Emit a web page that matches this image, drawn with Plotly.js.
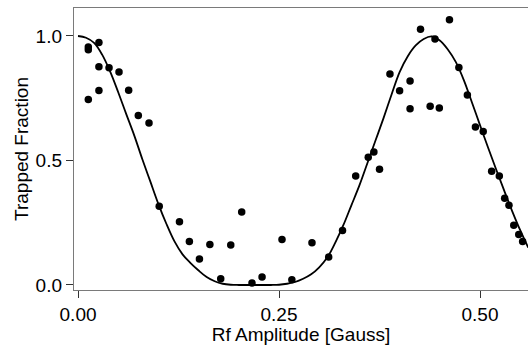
<!DOCTYPE html>
<html>
<head>
<meta charset="utf-8">
<script src="https://cdn.plot.ly/plotly-3.0.1.min.js"></script>
<style>html,body{margin:0;padding:0;background:#fff;}#chart{width:528px;height:345px;}</style>
</head>
<body>
<div id="chart"></div>
<script>
// Measured data points
const dataX = [0.0128, 0.0128, 0.026, 0.026, 0.0386, 0.051, 0.0128, 0.026, 0.0630, 0.075,
  0.0883, 0.101, 0.1262, 0.1385, 0.151, 0.164, 0.1775, 0.190, 0.2036, 0.2164,
  0.2289, 0.2537, 0.266, 0.291, 0.3118, 0.329, 0.3454, 0.361, 0.368, 0.375,
  0.388, 0.400, 0.413, 0.413, 0.426, 0.444, 0.438, 0.4494, 0.462, 0.4737,
  0.4843, 0.4943, 0.504, 0.5145, 0.524, 0.5307, 0.536, 0.542, 0.5482, 0.553];
const dataY = [0.956, 0.945, 0.974, 0.876, 0.872, 0.855, 0.745, 0.781, 0.782, 0.681,
  0.651, 0.316, 0.254, 0.175, 0.104, 0.163, 0.025, 0.161, 0.293, 0.008,
  0.032, 0.183, 0.021, 0.170, 0.112, 0.219, 0.438, 0.513, 0.534, 0.465,
  0.847, 0.780, 0.819, 0.708, 1.027, 0.988, 0.718, 0.711, 1.065, 0.873,
  0.763, 0.635, 0.616, 0.457, 0.438, 0.348, 0.320, 0.240, 0.203, 0.175];

// Fit curve
const fitX = [0.00, 0.01, 0.02, 0.03, 0.04, 0.05, 0.06, 0.07, 0.08, 0.09,
  0.10, 0.11, 0.12, 0.13, 0.14, 0.15, 0.16, 0.17, 0.18, 0.19,
  0.20, 0.22, 0.24, 0.25, 0.26, 0.27, 0.28, 0.29, 0.30, 0.31,
  0.32, 0.33, 0.34, 0.35, 0.36, 0.37, 0.38, 0.39, 0.40, 0.41,
  0.42, 0.43, 0.44, 0.45, 0.46, 0.47, 0.48, 0.49, 0.50, 0.51,
  0.52, 0.53, 0.54, 0.55, 0.56];
const fitY = [1.000, 0.993, 0.972, 0.925, 0.857, 0.774, 0.686, 0.600, 0.505, 0.415,
  0.325, 0.245, 0.175, 0.123, 0.088, 0.058, 0.032, 0.015, 0.005, 0.001,
  0.000, 0.000, 0.000, 0.001, 0.005, 0.012, 0.025, 0.043, 0.071, 0.110,
  0.170, 0.240, 0.320, 0.400, 0.490, 0.580, 0.670, 0.765, 0.855, 0.918,
  0.962, 0.988, 0.998, 0.982, 0.946, 0.895, 0.822, 0.733, 0.642, 0.552,
  0.465, 0.380, 0.297, 0.220, 0.150];

const xTickVals = [0, 0.25, 0.5];
const xTickText = ['0.00', '0.25', '0.50'];
const yTickVals = [0, 0.5, 1.0];
const yTickText = ['0.0', '0.5', '1.0'];

const FONT = 'Liberation Sans, Arial, Helvetica, sans-serif';

const traces = [
  {x: fitX, y: fitY, type: 'scatter', mode: 'lines',
   line: {color: '#000', width: 1.8, shape: 'spline', smoothing: 1.0},
   hoverinfo: 'skip', showlegend: false},
  {x: dataX, y: dataY, type: 'scatter', mode: 'markers',
   marker: {color: '#000', size: 7.5}, showlegend: false, cliponaxis: true}
];

const layout = {
  width: 528, height: 345,
  margin: {l: 74, r: 0, t: 8, b: 55, pad: 0},
  paper_bgcolor: '#fff', plot_bgcolor: '#fff',
  font: {family: FONT, size: 19, color: '#000'},
  showlegend: false,
  xaxis: {
    range: [-0.005, 0.5597], showgrid: false, zeroline: false,
    showline: true, linecolor: '#7a7a7a', linewidth: 1.2, mirror: true,
    ticks: 'outside', ticklen: 7, tickwidth: 1, tickcolor: '#333',
    tickvals: xTickVals, ticktext: xTickText,
    tickfont: {family: FONT, size: 19, color: '#000'},
    title: {text: 'Rf Amplitude [Gauss]', font: {family: FONT, size: 19, color: '#000'}, standoff: 4}
  },
  yaxis: {
    range: [-0.0201, 1.1124], showgrid: false, zeroline: false,
    showline: true, linecolor: '#7a7a7a', linewidth: 1.2, mirror: false,
    ticks: 'outside', ticklen: 7, tickwidth: 1, tickcolor: '#333',
    tickvals: yTickVals, ticktext: yTickText,
    tickfont: {family: FONT, size: 19, color: '#000'},
    title: {text: 'Trapped Fraction', font: {family: FONT, size: 19, color: '#000'}, standoff: 2}
  }
};

Plotly.newPlot('chart', traces, layout, {staticPlot: true, displayModeBar: false});
</script>
</body>
</html>
